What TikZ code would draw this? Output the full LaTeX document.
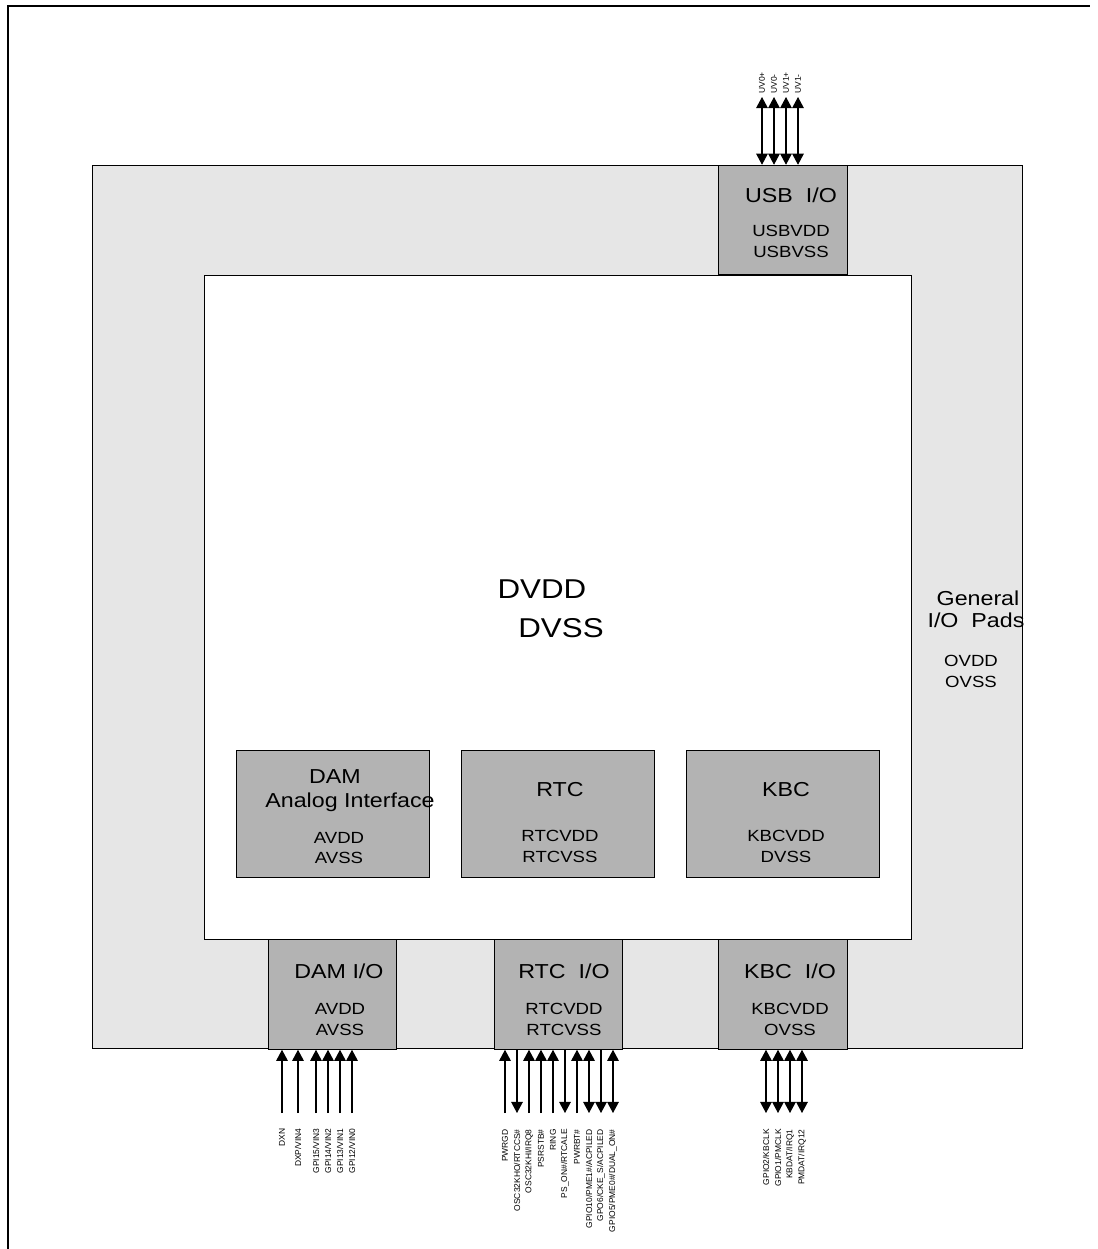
\documentclass[tikz,border=0pt]{standalone}
\usepackage{fontspec}
\setmainfont{Liberation Sans}
\newfontfamily\widesans[FakeStretch=1.15]{Liberation Sans}
\usetikzlibrary{arrows.meta, positioning}
\definecolor{ringbg}{RGB}{230, 230, 230}
\definecolor{padbg}{RGB}{179, 179, 179}

\begin{document}
\begin{tikzpicture}[x=0.02cm, y=-0.02cm,
			>={Triangle[length=6.3pt, width=6.6pt]},
			ringbox/.style={draw=black, line width=0.6pt, fill=ringbg, inner sep=0pt, minimum width=18.62cm, minimum height=17.68cm},
			corebox/.style={draw=black, line width=0.6pt, fill=white, inner sep=0pt, minimum width=14.16cm, minimum height=13.3cm},
			iopad/.style={draw=black, line width=0.6pt, fill=padbg, inner sep=0pt, minimum width=2.57cm, minimum height=2.19cm},
			block/.style={draw=black, line width=0.5pt, fill=padbg, inner sep=0pt, minimum width=3.86cm, minimum height=2.54cm},
			hdr/.style={font=\widesans\fontsize{11.5}{13}\selectfont, inner sep=0pt},
			rail/.style={font=\widesans\fontsize{9.2}{11}\selectfont, inner sep=0pt},
			supply/.style={font=\widesans\fontsize{15.5}{18}\selectfont, inner sep=0pt},
			sig/.style={font=\fontsize{4.8}{5}\selectfont, rotate=90, inner sep=0pt},
			pin/.style={line width=0.6pt},
			sigin/.style={pin, ->},
			sigout/.style={pin, <-},
			sigio/.style={pin, <->}
			]
			\useasboundingbox (0,0) rectangle (1098,1249);
			
			% Frame
			\draw[line width=1.1pt] (8,1249) -- (8,6) -- (1090,6);
			
			% Pad ring and core
			\node[ringbox] (ring) at (557.5,607) {};
			\node[corebox] (core) at (558,607.5) {};
			\node[supply] (dvdd) at (542,589) {DVDD};
			\node[supply] (dvss) at (561,628) {DVSS};
			
			\node[hdr] (gen) at (978,598) {General};
			\node[hdr] (genio) at (976,620) {I/O\ \ Pads};
			\node[rail] (ovdd) at (971,661) {OVDD};
			\node[rail] (ovss) at (971,682) {OVSS};
			
			% I/O pads
			\node[iopad] (usbio) at (783,220) {};
			\node[hdr] at (791,195) {USB\ \ I/O};
			\node[rail] at (791,231) {USBVDD};
			\node[rail] at (791,252) {USBVSS};
			
			\node[iopad] (damio) at (332.5,994.5) {};
			\node[hdr] at (339,971) {DAM I/O};
			\node[rail] at (340,1009) {AVDD};
			\node[rail] at (340,1030) {AVSS};
			
			\node[iopad] (rtcio) at (558.5,994.5) {};
			\node[hdr] at (564,971) {RTC\ \ I/O};
			\node[rail] at (564,1009) {RTCVDD};
			\node[rail] at (564,1030) {RTCVSS};
			
			\node[iopad] (kbcio) at (783,994.5) {};
			\node[hdr] at (790,971) {KBC\ \ I/O};
			\node[rail] at (790,1009) {KBCVDD};
			\node[rail] at (790,1030) {OVSS};
			
			% Core blocks
			\node[block] (dam) at (332.5,813.5) {};
			\node[hdr] at (335,777) {DAM};
			\node[hdr] at (350,802) {Analog Interface};
			\node[rail] at (339,838) {AVDD};
			\node[rail] at (339,858) {AVSS};
			
			\node[block] (rtc) at (557.5,813.5) {};
			\node[hdr] at (560,790) {RTC};
			\node[rail] at (560,836) {RTCVDD};
			\node[rail] at (560,857) {RTCVSS};
			
			\node[block] (kbc) at (782.5,813.5) {};
			\node[hdr] at (786,790) {KBC};
			\node[rail] at (786,836) {KBCVDD};
			\node[rail] at (786,857) {DVSS};
			
			% USB pins
			\foreach \x/\sig [count=\i] in {762/UV0+, 774/UV0-, 786/UV1+, 798/UV1-} {
				\coordinate (u\i) at (\x,97);
				\draw[sigio] (u\i) -- (u\i |- usbio.north);
				\node[sig, anchor=west] (ul\i) at (\x,94) {\sig};
			}
			
			% DAM pins
			\foreach \x/\sig/\dir [count=\i] in {282/DXN/sigin, 298/{DXP/VIN4}/sigin, 316/{GPI15/VIN3}/sigin,
				328/{GPI14/VIN2}/sigin, 340/{GPI13/VIN1}/sigin, 352/{GPI12/VIN0}/sigin} {
				\coordinate (d\i) at (\x,1113);
				\draw[\dir] (d\i) -- (d\i |- damio.south);
				\node[sig, anchor=east] (dl\i) at (\x,1128) {\sig};
			}
			
			% RTC pins
			\foreach \x/\sig/\dir [count=\i] in {505/PWRGD/sigin, 517/{OSC32KHO/RTCCS\#}/sigout,
				529/{OSC32KHI/IRQ8}/sigin, 541/PSRSTB\#/sigin, 553/RING/sigin,
				565/{PS\_ON\#/RTCALE}/sigout, 577/PWRBT\#/sigin, 589/{GPIO10/PME1\#/ACPILED}/sigio,
				601/{GPO6/CKE\_S/ACPILED}/sigout, 613/{GPIO5/PME0\#/DUAL\_ON\#}/sigio} {
				\coordinate (r\i) at (\x,1113);
				\draw[\dir] (r\i) -- (r\i |- rtcio.south);
				\node[sig, anchor=east] (rl\i) at (\x,1129) {\sig};
			}
			
			% KBC pins
			\foreach \x/\sig [count=\i] in {766/{GPIO2/KBCLK}, 778/{GPIO1/PMCLK}, 790/{KBDAT/IRQ1}, 802/{PMDAT/IRQ12}} {
				\coordinate (k\i) at (\x,1113);
				\draw[sigio] (k\i) -- (k\i |- kbcio.south);
				\node[sig, anchor=east] (kl\i) at (\x,1129) {\sig};
			}
		\end{tikzpicture}
\end{document}
